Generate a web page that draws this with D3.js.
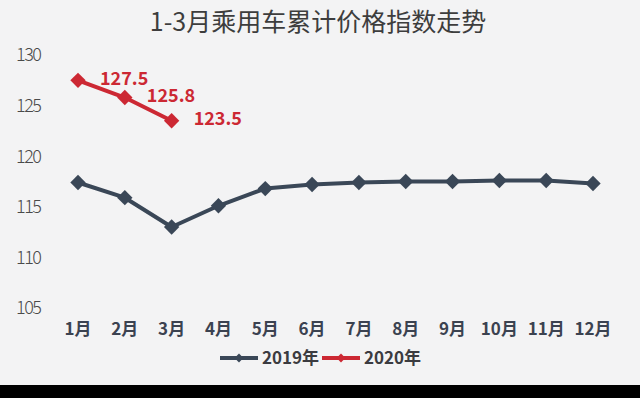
<!DOCTYPE html>
<html>
<head>
<meta charset="utf-8">
<script src="https://cdn.jsdelivr.net/npm/d3@7"></script>
<style>
  body { margin: 0; background: #000; }
  svg { display: block; font-family: "Noto Sans CJK SC", "Noto Sans", sans-serif; }
</style>
</head>
<body>
<div id="chart"></div>
<script>
var months = ["1月","2月","3月","4月","5月","6月","7月","8月","9月","10月","11月","12月"];
var values2019 = [117.4, 115.9, 113.0, 115.1, 116.8, 117.2, 117.4, 117.5, 117.5, 117.6, 117.6, 117.3];
var values2020 = [127.5, 125.8, 123.5];
var yTicks = [105, 110, 115, 120, 125, 130];
var seriesNames = ["2019年", "2020年"];

var width = 640, height = 398;
var darkColor = "#3a4757", redColor = "#cc2833";

var svg = d3.select("#chart").append("svg")
    .attr("width", width)
    .attr("height", height);

// background
svg.append("rect").attr("width", width).attr("height", 385).attr("fill", "#f3f3f4");
svg.append("rect").attr("y", 385).attr("width", width).attr("height", 13).attr("fill", "#000");

var x = d3.scalePoint().domain(months).range([78, 593]);
var y = d3.scaleLinear().domain([105, 130]).range([308, 55]);

// title
svg.append("text")
    .attr("x", 318).attr("y", 31)
    .attr("text-anchor", "middle")
    .attr("font-size", 25)
    .attr("fill", "#3d3d3d")
    .text("1-3月乘用车累计价格指数走势");

// y axis labels
svg.selectAll(".ytick")
    .data(yTicks)
  .enter().append("text")
    .attr("class", "ytick")
    .attr("x", 16)
    .attr("y", function(d) { return y(d); })
    .attr("dy", "0.35em")
    .attr("font-size", 18)
    .attr("font-weight", 300)
    .attr("fill", "#4a4a4a")
    .attr("textLength", 26)
    .text(function(d) { return d; });

// x axis labels
svg.selectAll(".xtick")
    .data(months)
  .enter().append("text")
    .attr("class", "xtick")
    .attr("x", function(d) { return x(d); })
    .attr("y", 329)
    .attr("dy", "0.35em")
    .attr("text-anchor", "middle")
    .attr("font-size", 17)
    .attr("font-weight", "bold")
    .attr("fill", "#3b4250")
    .text(function(d) { return d; });

var line = d3.line()
    .x(function(d, i) { return x(months[i]); })
    .y(function(d) { return y(d); });

var diamond = d3.symbol().type(d3.symbolDiamond2).size(150);

function drawSeries(vals, color) {
  svg.append("path")
      .datum(vals)
      .attr("d", line)
      .attr("fill", "none")
      .attr("stroke", color)
      .attr("stroke-width", 4)
      .attr("stroke-linejoin", "round");
  svg.selectAll(null)
      .data(vals)
    .enter().append("path")
      .attr("d", diamond)
      .attr("transform", function(d, i) { return "translate(" + x(months[i]) + "," + y(d) + ")"; })
      .attr("fill", color);
}

drawSeries(values2019, darkColor);
drawSeries(values2020, redColor);

// data labels for 2020
svg.selectAll(".lbl")
    .data(values2020)
  .enter().append("text")
    .attr("class", "lbl")
    .attr("x", function(d, i) { return x(months[i]) + 22; })
    .attr("y", function(d) { return y(d) - 2; })
    .attr("dy", "0.35em")
    .attr("font-size", 18)
    .attr("font-weight", "bold")
    .attr("fill", redColor)
    .text(function(d) { return d.toFixed(1); });

// legend
var legend = [
  {name: seriesNames[0], color: darkColor, x0: 220},
  {name: seriesNames[1], color: redColor, x0: 322}
];
var lg = svg.selectAll(".legend")
    .data(legend)
  .enter().append("g")
    .attr("transform", function(d) { return "translate(" + d.x0 + ",358)"; });
lg.append("line")
    .attr("x1", 0).attr("x2", 38)
    .attr("stroke", function(d) { return d.color; })
    .attr("stroke-width", 4);
lg.append("path")
    .attr("d", d3.symbol().type(d3.symbolDiamond2).size(50))
    .attr("transform", "translate(19,0)")
    .attr("fill", function(d) { return d.color; });
lg.append("text")
    .attr("x", 42)
    .attr("dy", "0.35em")
    .attr("font-size", 17)
    .attr("font-weight", "bold")
    .attr("fill", "#3b3b40")
    .text(function(d) { return d.name; });
</script>
</body>
</html>
